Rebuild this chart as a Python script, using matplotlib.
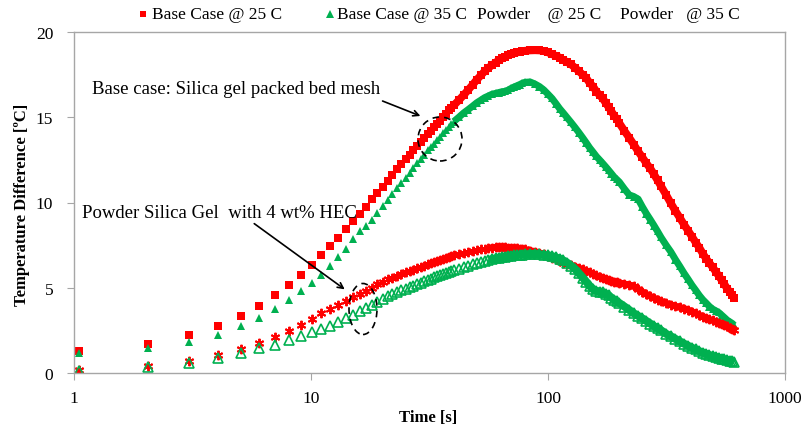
import numpy as np
import matplotlib
matplotlib.use('Agg')
import matplotlib.pyplot as plt
from matplotlib.patches import Ellipse
from matplotlib.lines import Line2D

# Time samples [s] (logger timestamps, shown on a log axis)
time_s = [1, 2, 3, 4, 5, 6, 7, 8, 9, 10, 11, 12, 13, 14, 15, 16, 17, 18, 19, 20,
          21, 22, 23, 24, 25, 26, 27, 28, 29, 30, 31, 32, 33, 34, 35, 36, 37, 38, 39, 40,
          42, 44, 46, 48, 50, 52, 54, 56, 58, 60, 62, 64, 66, 68, 70, 72, 74, 76, 78, 80,
          84, 88, 92, 96, 100, 104, 108, 112, 116, 120,
          125, 130, 135, 140, 145, 150, 155, 160, 165, 170, 175, 180, 185, 190, 195, 200,
          210, 220, 230, 240, 250, 260, 270, 280, 290, 300,
          315, 330, 345, 360, 375, 390, 405, 420, 435, 450, 465, 480, 495, 510, 525, 540,
          555, 570, 585, 600, 610]

base_25 = [1.29, 1.70, 2.23, 2.76, 3.34, 3.93, 4.57, 5.16, 5.75, 6.33, 6.92, 7.45, 7.92, 8.45, 8.91, 9.33, 9.74, 10.20, 10.56, 10.90,
           11.25, 11.60, 11.95, 12.25, 12.55, 12.80, 13.05, 13.30, 13.55, 13.80, 14.00, 14.20, 14.40, 14.60, 14.80, 15.00, 15.20, 15.40, 15.55, 15.70,
           16.00, 16.30, 16.60, 16.90, 17.20, 17.45, 17.70, 17.90, 18.05, 18.20, 18.35, 18.45, 18.55, 18.65, 18.70, 18.75, 18.80, 18.85, 18.88, 18.90,
           18.92, 18.93, 18.92, 18.88, 18.80, 18.70, 18.60, 18.50, 18.35, 18.25,
           18.10, 17.90, 17.70, 17.50, 17.30, 17.00, 16.80, 16.50, 16.30, 16.10, 15.85, 15.60, 15.35, 15.10, 14.90, 14.65,
           14.20, 13.80, 13.40, 13.00, 12.65, 12.30, 12.00, 11.65, 11.30, 10.95,
           10.45, 9.95, 9.50, 9.10, 8.70, 8.35, 8.00, 7.65, 7.35, 7.00, 6.70, 6.45, 6.20, 5.95, 5.70, 5.45,
           5.20, 4.95, 4.75, 4.55, 4.40]

base_35 = [1.17, 1.47, 1.82, 2.23, 2.76, 3.23, 3.75, 4.28, 4.81, 5.28, 5.75, 6.30, 6.80, 7.30, 7.85, 8.30, 8.65, 9.00, 9.40, 9.80,
           10.15, 10.50, 10.85, 11.15, 11.45, 11.75, 12.05, 12.30, 12.55, 12.80, 13.05, 13.25, 13.45, 13.65, 13.85, 14.05, 14.25, 14.45, 14.60, 14.75,
           15.00, 15.25, 15.45, 15.65, 15.85, 16.00, 16.15, 16.25, 16.35, 16.40, 16.45, 16.50, 16.52, 16.60, 16.70, 16.78, 16.85, 16.92, 17.00, 17.05,
           17.07, 16.95, 16.80, 16.60, 16.35, 16.10, 15.80, 15.50, 15.25, 15.00,
           14.70, 14.40, 14.10, 13.80, 13.50, 13.20, 12.95, 12.70, 12.50, 12.30, 12.10, 11.90, 11.70, 11.50, 11.35, 11.20,
           10.80, 10.45, 10.35, 10.20, 9.75, 9.35, 9.00, 8.65, 8.30, 7.95,
           7.50, 7.10, 6.65, 6.25, 5.85, 5.50, 5.15, 4.85, 4.55, 4.30, 4.10, 3.90, 3.75, 3.65, 3.55, 3.40,
           3.25, 3.10, 3.00, 2.90, 2.80]

powder_25 = [0.18, 0.41, 0.70, 1.06, 1.41, 1.76, 2.11, 2.46, 2.82, 3.17, 3.50, 3.75, 4.00, 4.20, 4.45, 4.65, 4.80, 5.00, 5.20, 5.35,
             5.50, 5.60, 5.70, 5.80, 5.90, 5.98, 6.06, 6.14, 6.22, 6.30, 6.37, 6.44, 6.50, 6.56, 6.62, 6.68, 6.74, 6.80, 6.85, 6.90,
             6.97, 7.04, 7.10, 7.16, 7.22, 7.26, 7.30, 7.33, 7.35, 7.37, 7.38, 7.38, 7.37, 7.36, 7.35, 7.33, 7.31, 7.29, 7.27, 7.25,
             7.18, 7.12, 7.05, 6.96, 6.86, 6.76, 6.66, 6.56, 6.47, 6.40,
             6.32, 6.24, 6.16, 6.08, 6.00, 5.90, 5.80, 5.72, 5.64, 5.57, 5.51, 5.46, 5.41, 5.36, 5.32, 5.28,
             5.22, 5.17, 5.08, 4.92, 4.76, 4.62, 4.50, 4.40, 4.30, 4.22,
             4.10, 4.00, 3.92, 3.85, 3.78, 3.70, 3.60, 3.50, 3.40, 3.30, 3.22, 3.15, 3.08, 3.00, 2.94, 2.87,
             2.80, 2.73, 2.66, 2.60, 2.55]

powder_35 = [0.10, 0.35, 0.59, 0.88, 1.17, 1.47, 1.64, 1.94, 2.17, 2.40, 2.60, 2.78, 3.00, 3.20, 3.42, 3.62, 3.82, 4.00, 4.18, 4.35,
             4.50, 4.62, 4.74, 4.84, 4.94, 5.04, 5.13, 5.22, 5.30, 5.38, 5.46, 5.54, 5.61, 5.68, 5.74, 5.80, 5.86, 5.92, 5.97, 6.02,
             6.12, 6.21, 6.30, 6.38, 6.45, 6.52, 6.58, 6.63, 6.68, 6.72, 6.76, 6.80, 6.83, 6.86, 6.88, 6.90, 6.92, 6.94, 6.95, 6.96,
             6.98, 6.98, 6.96, 6.93, 6.90, 6.85, 6.78, 6.70, 6.60, 6.48,
             6.30, 6.10, 5.85, 5.60, 5.35, 5.10, 4.90, 4.82, 4.78, 4.74, 4.65, 4.55, 4.42, 4.30, 4.20, 4.10,
             3.90, 3.70, 3.50, 3.35, 3.20, 3.05, 2.90, 2.75, 2.62, 2.50,
             2.30, 2.15, 2.00, 1.85, 1.72, 1.60, 1.48, 1.38, 1.28, 1.20, 1.12, 1.05, 1.00, 0.95, 0.90, 0.85,
             0.80, 0.77, 0.73, 0.70, 0.66]

x_ticks = [1, 10, 100, 1000]
y_ticks = [0, 5, 10, 15, 20]

RED = '#FF0000'
GREEN = '#00B050'
GRID = '#A6A6A6'

plt.rcParams['font.family'] = ['Liberation Serif', 'DejaVu Serif']

fig = plt.figure(figsize=(8.06, 4.39), dpi=100)
W, H = 806, 439
ax = fig.add_axes([74 / W, 1 - 374 / H, (785 - 74) / W, (374 - 33) / H])

t = np.array(time_s) + 0.05  # first sample logged just after 1 s

# where the markers pile up into a solid band, back them with a thick line
dense_base = t >= 40
dense_powder = t >= 55
ax.plot(t[dense_base], np.array(base_25)[dense_base], color=RED, lw=5.6, solid_capstyle='butt')
ax.plot(t, base_25, ls='none', marker='s', color=RED, ms=5.4, mew=0)
ax.plot(t[dense_base], np.array(base_35)[dense_base], color=GREEN, lw=5, solid_capstyle='butt')
ax.plot(t, base_35, ls='none', marker='^', color=GREEN, ms=6.4, mew=0)
ax.plot(t[dense_powder], np.array(powder_25)[dense_powder], color=RED, lw=5, solid_capstyle='butt')
ax.plot(t, powder_25, ls='none', marker=(6, 2, 0), color=RED, ms=6.8, mew=1.4)
ax.plot(t[dense_powder], np.array(powder_35)[dense_powder], color=GREEN, lw=5.8, solid_capstyle='butt')
ax.plot(t, powder_35, ls='none', marker='^', mfc='none', mec=GREEN, ms=7.5, mew=1.2)

ax.set_xscale('log')
ax.set_xlim(1, 1000)
ax.set_ylim(0, 20)
ax.set_xticks(x_ticks)
ax.set_xticklabels([str(v) for v in x_ticks])
ax.set_yticks(y_ticks)
ax.minorticks_off()

for s in ax.spines.values():
    s.set_color(GRID)
    s.set_linewidth(1)
ax.tick_params(axis='both', direction='out', length=5, color=GRID, labelsize=12.5)
ax.tick_params(axis='y', pad=10)
ax.tick_params(axis='x', pad=7)

fig.text(22 / W, 1 - 205 / H, 'Temperature Difference [ºC]', rotation=90,
         ha='center', va='center', fontsize=12, fontweight='bold')
fig.text(428 / W, 1 - 418 / H, 'Time [s]', ha='center', va='center',
         fontsize=12, fontweight='bold')

# legend, laid out as in the spreadsheet export
ly = 1 - 15 / H
fig.add_artist(Line2D([143 / W], [ly], transform=fig.transFigure, ls='none',
                      marker='s', color=RED, ms=5, mew=0))
fig.text(152 / W, ly, 'Base Case @ 25 C', va='center', ha='left', fontsize=12.5)
fig.add_artist(Line2D([330 / W], [ly], transform=fig.transFigure, ls='none',
                      marker='^', color=GREEN, ms=5.5, mew=0))
fig.text(337 / W, ly, 'Base Case @ 35 C', va='center', ha='left', fontsize=12.5)
fig.text(477 / W, ly, 'Powder    @ 25 C', va='center', ha='left', fontsize=12.5)
fig.text(620 / W, ly, 'Powder   @ 35 C', va='center', ha='left', fontsize=12.5)

# annotations
fig.text(92 / W, 1 - 89 / H, 'Base case: Silica gel packed bed mesh',
         va='center', ha='left', fontsize=13.5)
fig.text(82 / W, 1 - 213 / H, 'Powder Silica Gel  with 4 wt% HEC',
         va='center', ha='left', fontsize=13.5)
ax.annotate('', xy=(423, H - 118), xytext=(380, H - 101), xycoords='figure pixels',
            textcoords='figure pixels',
            arrowprops=dict(arrowstyle='->', color='black', lw=1.2))
ax.annotate('', xy=(347, H - 292), xytext=(252, H - 223), xycoords='figure pixels',
            textcoords='figure pixels',
            arrowprops=dict(arrowstyle='->', color='black', lw=1.2))
fig.add_artist(Ellipse((440 / W, 1 - 140 / H), 44 / W, 44 / H, transform=fig.transFigure,
                       fill=False, ec='black', lw=1.2, ls=(0, (4, 3))))
fig.add_artist(Ellipse((363 / W, 1 - 310 / H), 28 / W, 51 / H, transform=fig.transFigure,
                       fill=False, ec='black', lw=1.2, ls=(0, (4, 3))))

fig.savefig('out.png', dpi=100)
